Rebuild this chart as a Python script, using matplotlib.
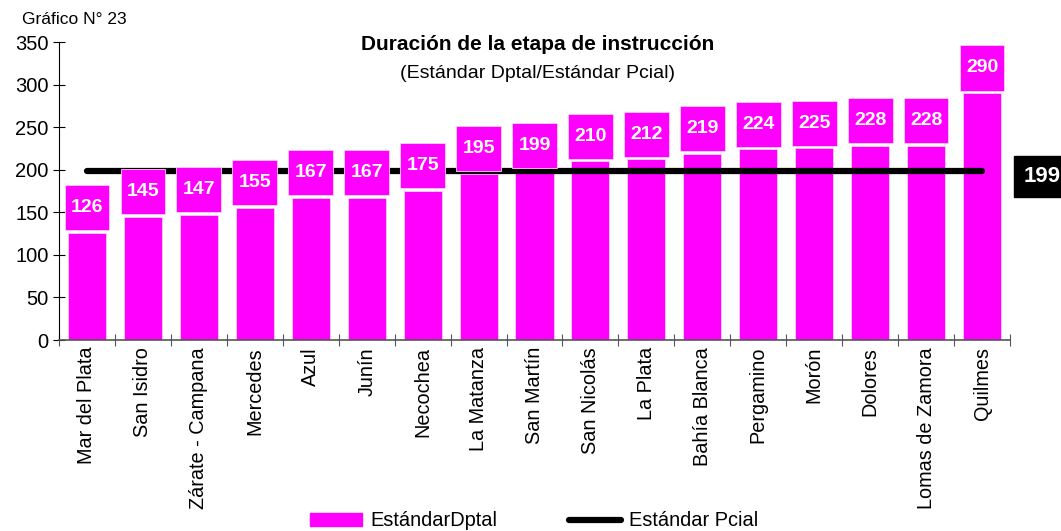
import matplotlib
matplotlib.use("Agg")
import matplotlib.pyplot as plt
from matplotlib.patches import Rectangle, Patch
from matplotlib.lines import Line2D
import numpy as np

plt.rcParams['font.family'] = ['Liberation Sans', 'DejaVu Sans']

categories = ["Mar del Plata", "San Isidro", "Zárate - Campana", "Mercedes", "Azul",
              "Junín", "Necochea", "La Matanza", "San Martín", "San Nicolás",
              "La Plata", "Bahía Blanca", "Pergamino", "Morón", "Dolores",
              "Lomas de Zamora", "Quilmes"]
dptal = [126, 145, 147, 155, 167, 167, 175, 195, 199, 210, 212, 219, 224, 225, 228, 228, 290]
pcial = 199

MAG = "#FF00FF"

fig = plt.figure(figsize=(10.61, 5.31), dpi=100)
ax = fig.add_axes([59/1061, 1 - 340/531, (1010 - 59)/1061, (340 - 42)/531])

x = np.arange(len(categories))
ax.bar(x, dptal, width=0.68, color=MAG, edgecolor="#ffd0ff", linewidth=0.6, zorder=2)

# provincial standard line
ax.plot([x[0], x[-1]], [pcial, pcial], color="black", lw=4.5,
        solid_capstyle="round", zorder=3)

# value label boxes
box_w = 0.8
box_h = 53
gap = 3
for xi, v in zip(x, dptal):
    ax.add_patch(Rectangle((xi - box_w/2, v + gap), box_w, box_h, facecolor=MAG,
                           edgecolor="#ffd0ff", linewidth=0.6, zorder=4, clip_on=False))
    ax.text(xi, v + gap + box_h/2, str(v), ha="center", va="center", color="white",
            fontsize=14, fontweight="bold", zorder=5, clip_on=False)

ax.set_xlim(-0.5, len(categories) - 0.5)
ax.set_ylim(0, 350)
ax.set_yticks(range(0, 351, 50))
ax.tick_params(axis="y", direction="inout", length=9, width=0.8, labelsize=14.5, pad=3)

ax.set_xticks(x)
ax.set_xticklabels(categories, rotation=90, fontsize=14.3)
ax.tick_params(axis="x", which="major", length=0, pad=5)
ax.set_xticks(np.arange(-0.5, len(categories), 1.0), minor=True)
ax.tick_params(axis="x", which="minor", direction="inout", length=9, width=0.8, color="#555555")

for s in ["top", "right"]:
    ax.spines[s].set_visible(False)
ax.spines["left"].set_linewidth(0.8)
ax.spines["bottom"].set_color("#555555")
ax.spines["bottom"].set_linewidth(1.2)

fig.text(22/1061, 1 - 20/531, "Gráfico N° 23", fontsize=12.5, va="center", ha="left")
fig.text(538/1061, 1 - 45/531, "Duración de la etapa de instrucción", fontsize=15,
         fontweight="bold", ha="center", va="center")
fig.text(537/1061, 1 - 73/531, "(Estándar Dptal/Estándar Pcial)", fontsize=14,
         ha="center", va="center")

# provincial value box at right
fig.text(1024/1061, 1 - 176/531, str(pcial), fontsize=16, fontweight="bold", color="white",
         ha="left", va="center",
         bbox=dict(boxstyle="square,pad=0.45", facecolor="black", edgecolor="black"))

handles = [Patch(facecolor=MAG, edgecolor=MAG),
           Line2D([0], [0], color="black", lw=4.5, solid_capstyle="round")]
fig.legend(handles, ["EstándarDptal", "Estándar Pcial"], loc="center",
           bbox_to_anchor=(534/1061, 1 - 521/531), ncol=2, frameon=False,
           fontsize=14.4, handlelength=2.6, handleheight=0.6, columnspacing=3.6,
           handletextpad=0.4)

fig.savefig("out.png", dpi=100)
